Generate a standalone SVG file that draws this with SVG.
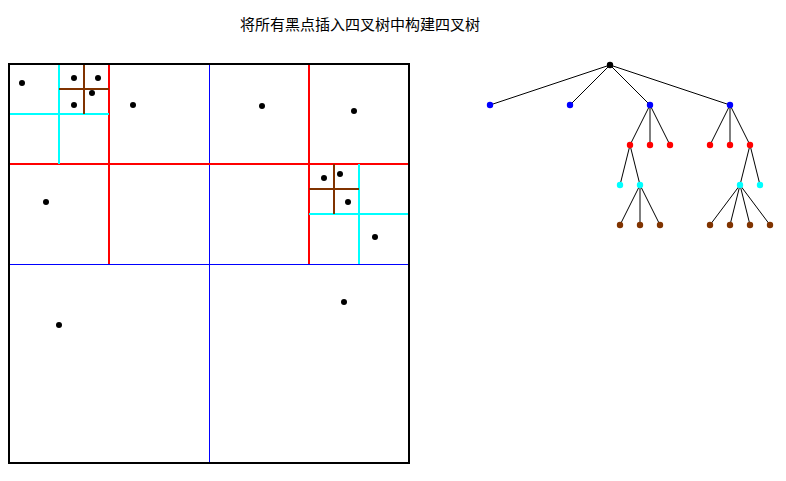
<svg xmlns="http://www.w3.org/2000/svg" width="786" height="481" viewBox="0 0 786 481">
<style>
.title{font-family:"Noto Sans CJK SC","Noto Sans CJK JP",sans-serif;font-size:15px;fill:#000}
.blue{stroke:#0000ff;stroke-width:1;fill:none}
.red{stroke:#ff0000;stroke-width:2;fill:none}
.cyan{stroke:#00ffff;stroke-width:2;fill:none}
.brown{stroke:#803300;stroke-width:2;fill:none}
.pt{fill:#000}
.edge{stroke:#000;stroke-width:1;fill:none}
.nb{fill:#0000ff}.nr{fill:#ff0000}.nc{fill:#00ffff}.nw{fill:#803300}.nk{fill:#000}
</style>
<rect width="786" height="481" fill="#fff"/>
<text class="title" x="360" y="30" text-anchor="middle">将所有黑点插入四叉树中构建四叉树</text>
<g id="quadtree">
<path class="blue" d="M209.5,64V463M9,264.5H409"/>
<path class="red" d="M9,164H409M109,64V264M309,64V264"/>
<path class="cyan" d="M59,64V164M9,114H109M359,164V264M309,214H409"/>
<path class="brown" d="M84,64V114M59,89H109M334,164V214M309,189H359"/>
<rect x="9" y="64" width="400" height="399" fill="none" stroke="#000" stroke-width="2"/>
</g>
<g id="points">
<circle class="pt" cx="22" cy="83" r="3"/>
<circle class="pt" cx="74" cy="78" r="3"/>
<circle class="pt" cx="98" cy="78" r="3"/>
<circle class="pt" cx="92" cy="93" r="3"/>
<circle class="pt" cx="74" cy="105" r="3"/>
<circle class="pt" cx="133" cy="105" r="3"/>
<circle class="pt" cx="46" cy="202" r="3"/>
<circle class="pt" cx="262" cy="106" r="3"/>
<circle class="pt" cx="354" cy="111" r="3"/>
<circle class="pt" cx="324" cy="178" r="3"/>
<circle class="pt" cx="340" cy="174" r="3"/>
<circle class="pt" cx="348" cy="202" r="3"/>
<circle class="pt" cx="375" cy="237" r="3"/>
<circle class="pt" cx="59" cy="325" r="3"/>
<circle class="pt" cx="344" cy="302" r="3"/>
</g>
<g id="connectors">
<path class="edge" d="M610,65L490,105M610,65L570,105M610,65L650,105M610,65L730,105"/>
<path class="edge" d="M650,105L630,145M650,105L650,145M650,105L670,145M730,105L710,145M730,105L730,145M730,105L750,145"/>
<path class="edge" d="M630,145L620,185M630,145L640,185M750,145L740,185M750,145L760,185"/>
<path class="edge" d="M640,185L620,225M640,185L640,225M640,185L660,225M740,185L710,225M740,185L730,225M740,185L750,225M740,185L770,225"/>
</g>
<g id="root"><circle class="nk" cx="610" cy="65" r="3.2"/></g>
<g id="n1"><circle class="nb" cx="490" cy="105" r="3.2"/></g>
<g id="n2"><circle class="nb" cx="570" cy="105" r="3.2"/></g>
<g id="n3"><circle class="nb" cx="650" cy="105" r="3.2"/></g>
<g id="n4"><circle class="nb" cx="730" cy="105" r="3.2"/></g>
<g id="n3a"><circle class="nr" cx="630" cy="145" r="3.2"/></g>
<g id="n3b"><circle class="nr" cx="650" cy="145" r="3.2"/></g>
<g id="n3c"><circle class="nr" cx="670" cy="145" r="3.2"/></g>
<g id="n4a"><circle class="nr" cx="710" cy="145" r="3.2"/></g>
<g id="n4b"><circle class="nr" cx="730" cy="145" r="3.2"/></g>
<g id="n4c"><circle class="nr" cx="750" cy="145" r="3.2"/></g>
<g id="n3a1"><circle class="nc" cx="620" cy="185" r="3.2"/></g>
<g id="n3a2"><circle class="nc" cx="640" cy="185" r="3.2"/></g>
<g id="n4c1"><circle class="nc" cx="740" cy="185" r="3.2"/></g>
<g id="n4c2"><circle class="nc" cx="760" cy="185" r="3.2"/></g>
<g id="n3a2a"><circle class="nw" cx="620" cy="225" r="3.2"/></g>
<g id="n3a2b"><circle class="nw" cx="640" cy="225" r="3.2"/></g>
<g id="n3a2c"><circle class="nw" cx="660" cy="225" r="3.2"/></g>
<g id="n4c1a"><circle class="nw" cx="710" cy="225" r="3.2"/></g>
<g id="n4c1b"><circle class="nw" cx="730" cy="225" r="3.2"/></g>
<g id="n4c1c"><circle class="nw" cx="750" cy="225" r="3.2"/></g>
<g id="n4c1d"><circle class="nw" cx="770" cy="225" r="3.2"/></g>
</svg>
